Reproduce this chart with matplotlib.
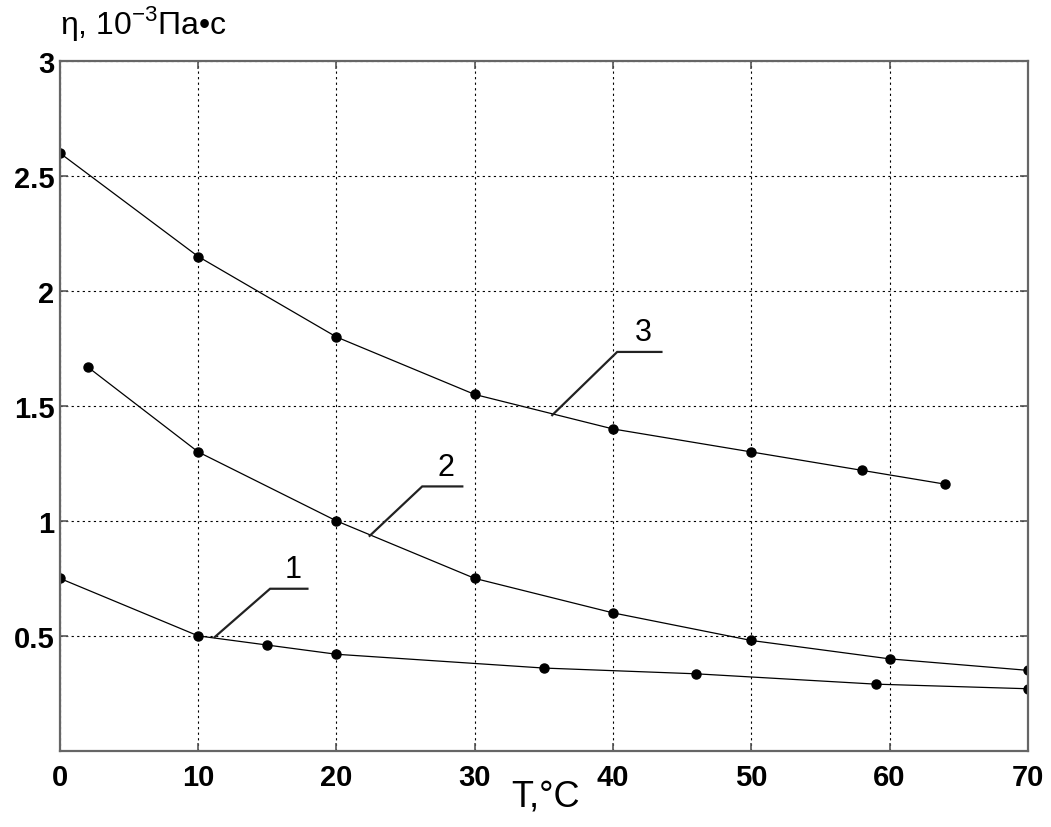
import matplotlib
matplotlib.use("Agg")
import matplotlib.pyplot as plt

plt.rcParams['font.family'] = ['Liberation Sans', 'DejaVu Sans']
plt.rcParams['mathtext.fontset'] = 'custom'
plt.rcParams['mathtext.rm'] = 'Liberation Sans'

# curve 1
t1 = [0, 10, 15, 20, 35, 46, 59, 70]
eta1 = [0.75, 0.50, 0.46, 0.42, 0.36, 0.335, 0.29, 0.27]
# curve 2
t2 = [2, 10, 20, 30, 40, 50, 60, 70]
eta2 = [1.67, 1.30, 1.00, 0.75, 0.60, 0.48, 0.40, 0.35]
# curve 3
t3 = [0, 10, 20, 30, 40, 50, 58, 64]
eta3 = [2.60, 2.15, 1.80, 1.55, 1.40, 1.30, 1.22, 1.16]

x_ticks = [0, 10, 20, 30, 40, 50, 60, 70]
y_ticks = [0.5, 1, 1.5, 2, 2.5, 3]
y_tick_labels = ['0.5', '1', '1.5', '2', '2.5', '3']

# leader lines: (point on curve, elbow, end of shelf, label)
leaders = [
    ((11.2, 0.495), (15.2, 0.705), (17.9, 0.705), '1'),
    ((22.4, 0.935), (26.2, 1.15), (29.1, 1.15), '2'),
    ((35.6, 1.46), (40.3, 1.735), (43.5, 1.735), '3'),
]

fig = plt.figure(figsize=(10.51, 8.28), dpi=100)
ax = fig.add_axes([0.057, 0.092, 0.921, 0.833])

for t, eta in [(t1, eta1), (t2, eta2), (t3, eta3)]:
    ax.plot(t, eta, '-', color='black', linewidth=0.9)
    ax.plot(t, eta, 'o', color='black', markersize=6.5)

for p0, p1, p2, lab in leaders:
    ax.plot([p0[0], p1[0], p2[0]], [p0[1], p1[1], p2[1]],
            color='#222222', linewidth=1.6, solid_joinstyle='miter')
    ax.text((p1[0] + p2[0]) / 2 + 0.3, p1[1] + 0.02, lab,
            fontsize=22, ha='center', va='bottom')

ax.set_xlim(0, 70)
ax.set_ylim(0, 3)
ax.set_xticks(x_ticks)
ax.set_xticklabels([str(v) for v in x_ticks], fontsize=21, fontweight='bold')
ax.set_yticks(y_ticks)
ax.set_yticklabels(y_tick_labels, fontsize=21, fontweight='bold')
ax.tick_params(direction='in', length=6, width=1.2, color='#555555',
               top=True, right=True)
ax.tick_params(axis='x', pad=9)
ax.tick_params(axis='y', pad=4)

ax.grid(True, color='black', linestyle=(0, (2, 3)), linewidth=0.8)
for s in ax.spines.values():
    s.set_color('#666666')
    s.set_linewidth(1.6)

fig.text(0.519, 0.037, 'T,°C', fontsize=26, ha='center', va='center')
fig.text(0.057, 0.972, r'η, 10$^{-3}$Па•с', fontsize=23, ha='left', va='center')

fig.savefig('out.png', dpi=100)
